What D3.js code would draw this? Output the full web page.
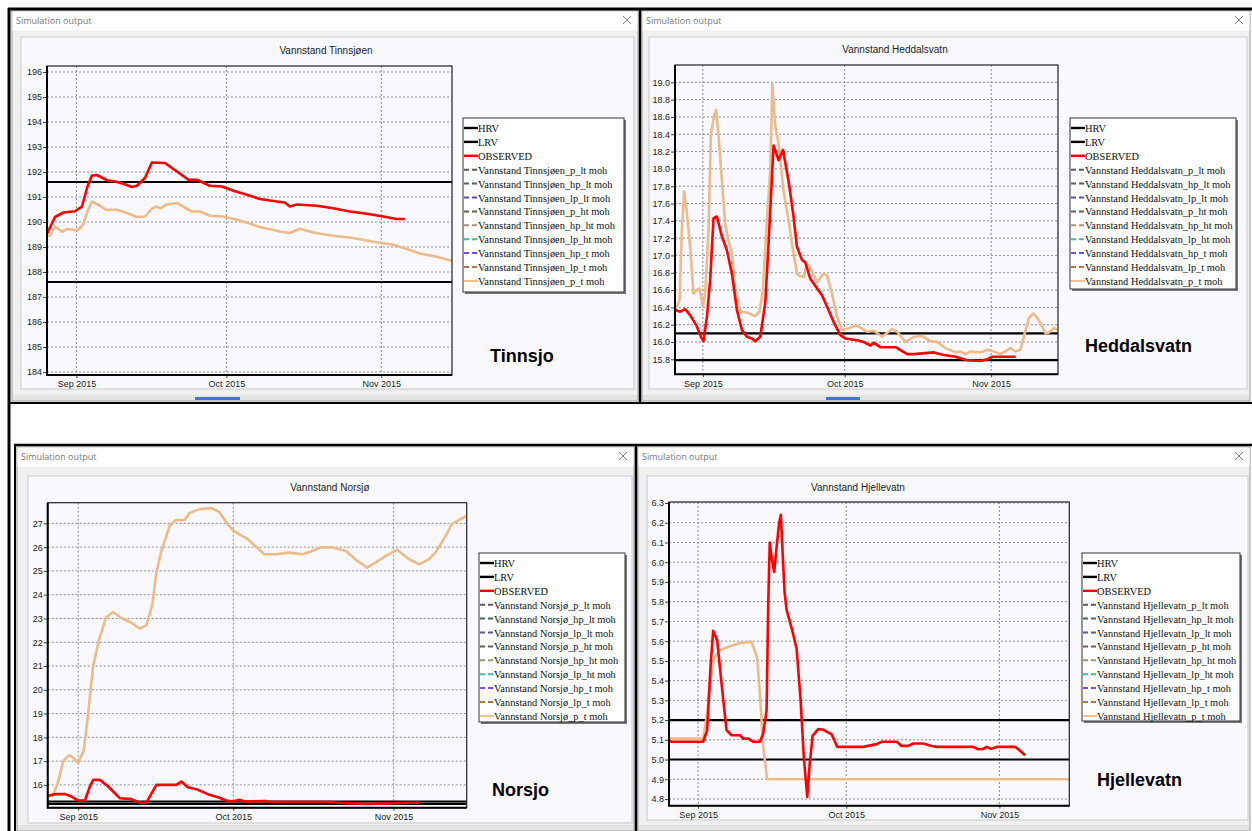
<!DOCTYPE html>
<html lang="en">
<head>
<meta charset="utf-8">
<title>Simulation output</title>
<script src="https://cdn.jsdelivr.net/npm/d3@7"></script>
<style>
  body { margin: 0; background: #fff; }
  svg { display: block; }
</style>
</head>
<body>
<script>
// ---- shared axis data ----
const xTickDays = [0, 30, 61];                       // Sep 1, Oct 1, Nov 1 (days from 2015-09-01)
const xTickLabels = ["Sep 2015", "Oct 2015", "Nov 2015"];
const dayDomain = [-5.9, 75.15];

const legendSuffixes = ["_p_lt moh", "_hp_lt moh", "_lp_lt moh", "_p_ht moh", "_hp_ht moh",
                        "_lp_ht moh", "_hp_t moh", "_lp_t moh", "_p_t moh"];
const legendColors = ["#000", "#000", "#ff0000", "#5a5a5a", "#4f6660", "#5e5494", "#6e5d4c",
                      "#a8927a", "#3fbf94", "#7c4ddb", "#a87a4a", "#efbf8e"];
const legendDashed = [false, false, false, true, true, true, true, true, true, true, true, false];

// ---- Tinnsjøen ----
const tinnTicks = [184, 185, 186, 187, 188, 189, 190, 191, 192, 193, 194, 195, 196];
const tinnHRV = 191.6, tinnLRV = 187.6;
const tinnObserved = [[-5.9,189.53],[-4.3,190.2],[-2.6,190.38],[-0.3,190.43],[1.1,190.62],[2.2,191.42],[3.1,191.86],[4.1,191.88],[6.1,191.67],[7.7,191.62],[9.4,191.53],[11.1,191.40],[12.1,191.45],[13.7,191.76],[15.1,192.38],[17.7,192.36],[20.1,192.02],[22.4,191.69],[24.1,191.69],[26.7,191.45],[29.1,191.42],[31.4,191.25],[34.1,191.09],[36.7,190.92],[40.1,190.82],[41.7,190.78],[42.7,190.62],[44.1,190.70],[48.1,190.65],[51.4,190.55],[54.7,190.42],[58.1,190.33],[61.4,190.22],[64.1,190.12],[65.7,190.12]];
const tinnPt = [[-5.9,189.45],[-5.3,189.45],[-4.3,189.82],[-2.9,189.61],[-1.9,189.72],[-0.6,189.69],[0.2,189.66],[1.3,189.89],[2.2,190.42],[3.1,190.82],[4.7,190.65],[5.9,190.49],[8.1,190.49],[10.1,190.36],[12.1,190.2],[13.7,190.22],[15.1,190.54],[16.1,190.62],[16.7,190.54],[18.1,190.70],[20.1,190.76],[23.1,190.42],[24.7,190.42],[26.7,190.25],[29.4,190.22],[32.7,190.06],[36.7,189.8],[40.7,189.62],[42.7,189.56],[44.7,189.73],[47.4,189.58],[51.4,189.45],[55.4,189.36],[59.4,189.21],[63.4,189.09],[66.1,188.92],[68.7,188.74],[72.1,188.61],[75.15,188.45]];

// ---- Heddalsvatn ----
const heddTicks = [15.8, 16.0, 16.2, 16.4, 16.6, 16.8, 17.0, 17.2, 17.4, 17.6, 17.8, 18.0, 18.2, 18.4, 18.6, 18.8, 19.0];
const heddHRV = 16.1, heddLRV = 15.79;
const heddObserved = [[-5.87,16.37],[-4.8,16.35],[-3.75,16.38],[-2.7,16.31],[-1.27,16.18],[-0.42,16.06],[0.13,16.01],[0.85,16.29],[1.55,16.72],[2.25,17.43],[2.97,17.45],[4.03,17.22],[5.08,17.06],[6.14,16.79],[7.2,16.37],[8.26,16.14],[9.32,16.06],[10.38,16.04],[11.08,16.01],[12.14,16.06],[13.2,16.45],[13.9,17.14],[14.96,18.27],[16.02,18.10],[16.95,18.22],[18.13,17.86],[19.19,17.45],[19.9,17.10],[20.97,16.95],[21.67,16.92],[22.73,16.73],[24.15,16.62],[25.21,16.54],[26.27,16.41],[27.68,16.23],[29.1,16.08],[30.15,16.04],[32.63,16.02],[34.04,16.0],[35.45,15.96],[36.16,15.99],[37.58,15.94],[40.76,15.94],[43.23,15.86],[44.64,15.86],[48.88,15.88],[51.0,15.85],[53.47,15.83],[55.95,15.79],[58.77,15.78],[60.18,15.80],[61.24,15.83],[66.17,15.83]];
const heddPt = [[-5.87,16.37],[-4.95,16.48],[-4.45,17.29],[-3.96,17.74],[-3.39,17.49],[-2.69,17.10],[-1.99,16.56],[-1.27,16.60],[-0.72,16.62],[0,16.41],[0.49,16.56],[1.19,17.29],[1.69,18.4],[2.4,18.62],[2.8,18.68],[3.3,18.4],[4.03,17.86],[4.72,17.36],[5.43,17.17],[6.14,17.04],[6.84,16.6],[7.9,16.35],[9.32,16.34],[11.08,16.30],[11.99,16.35],[12.71,16.6],[13.41,17.29],[14.25,17.98],[14.7,18.99],[15.3,18.5],[16.0,18.3],[17.08,17.74],[18.13,17.41],[18.84,17.14],[19.9,16.79],[20.6,16.76],[21.3,16.75],[22.0,16.9],[22.73,16.86],[24.15,16.69],[25.55,16.79],[26.27,16.77],[27.3,16.56],[28.4,16.29],[29.46,16.14],[30.86,16.16],[32.6,16.19],[34.75,16.12],[36.16,16.13],[37.93,16.06],[40.05,16.15],[41.1,16.12],[42.86,16.0],[44.64,16.06],[46.4,16.07],[48.17,16.01],[49.58,16.0],[51.34,15.93],[53.47,15.88],[54.5,15.89],[55.6,15.86],[56.6,15.89],[58.77,15.88],[60.2,15.91],[61.6,15.89],[63.0,15.86],[65.1,15.93],[66.17,15.89],[67.2,15.91],[68.3,16.14],[69.0,16.28],[70.0,16.33],[71.1,16.25],[72.5,16.10],[73.2,16.11],[74.3,16.16],[75.15,16.14]];

// ---- Norsjø ----
const norsTicks = [16, 17, 18, 19, 20, 21, 22, 23, 24, 25, 26, 27];
const norsHRV = 15.3, norsLRV = 15.2;
const norsObserved = [[-5.9,15.54],[-4.49,15.61],[-2.56,15.61],[-1.28,15.51],[0,15.34],[1.29,15.34],[2.26,15.93],[2.89,16.21],[4.19,16.21],[5.79,15.93],[8.04,15.44],[10.3,15.40],[11.9,15.25],[13.19,15.25],[15.12,16.0],[18.98,16.0],[19.94,16.14],[21.21,15.90],[22.83,15.82],[25.4,15.58],[27.33,15.46],[28.62,15.34],[29.9,15.30],[31.2,15.37],[32.15,15.30],[36.3,15.32],[37.6,15.28],[48.5,15.28],[50.4,15.25],[55.6,15.2],[60.75,15.22],[63.3,15.25],[66.0,15.25]];
const norsPt = [[-5.9,15.51],[-4.94,15.54],[-4.05,16.0],[-2.89,17.01],[-1.73,17.25],[-0.96,17.15],[0,16.92],[1.1,17.48],[1.93,19.02],[2.89,21.0],[4.05,22.12],[5.34,23.03],[6.75,23.27],[8.04,23.06],[10.3,22.82],[11.9,22.57],[13.19,22.71],[14.35,23.59],[15.12,24.93],[16.08,25.84],[17.7,26.9],[18.9,27.14],[20.6,27.14],[21.5,27.43],[23.5,27.6],[25.8,27.64],[27.3,27.47],[28.9,26.97],[30.0,26.69],[32.8,26.34],[36.0,25.70],[38.3,25.70],[40.8,25.77],[43.4,25.70],[45.3,25.84],[46.9,25.99],[49.2,25.99],[51.8,25.84],[54.0,25.42],[55.9,25.14],[57.5,25.35],[59.5,25.63],[61.7,25.89],[64.0,25.49],[66.0,25.28],[67.8,25.49],[69.1,25.77],[71.1,26.48],[72.3,26.98],[75.0,27.3]];

// ---- Hjellevatn ----
const hjelTicks = [4.8, 4.9, 5.0, 5.1, 5.2, 5.3, 5.4, 5.5, 5.6, 5.7, 5.8, 5.9, 6.0, 6.1, 6.2, 6.3];
const hjelHRV = 5.2, hjelLRV = 5.0;
const hjelObserved = [[-5.94,5.095],[-5.4,5.09],[1.01,5.09],[1.82,5.148],[2.51,5.47],[3.04,5.652],[3.85,5.605],[4.74,5.385],[5.75,5.149],[6.77,5.123],[8.45,5.123],[9.12,5.106],[10.13,5.106],[11.14,5.09],[12.5,5.09],[13.17,5.13],[13.86,5.25],[14.2,5.8],[14.5,6.1],[14.9,6.02],[15.4,5.95],[15.9,6.08],[16.4,6.2],[16.75,6.24],[17.1,6.05],[17.5,5.85],[17.9,5.76],[19.0,5.66],[19.94,5.56],[20.75,5.30],[21.4,5.01],[22.1,4.81],[22.6,4.98],[23.18,5.12],[24.3,5.154],[25.3,5.152],[27.03,5.128],[28.17,5.064],[33.4,5.064],[36.15,5.078],[37.2,5.09],[40.2,5.09],[41.2,5.069],[42.55,5.069],[43.57,5.081],[45.6,5.081],[47.3,5.069],[48.3,5.064],[55.7,5.064],[56.7,5.052],[57.75,5.054],[58.4,5.064],[59.25,5.054],[60.47,5.064],[64.2,5.064],[65.2,5.044],[66.2,5.022]];
const hjelPt = [[-5.94,5.106],[1.01,5.106],[1.82,5.233],[2.37,5.385],[3.18,5.512],[4.4,5.554],[6.42,5.574],[8.45,5.591],[10.8,5.596],[11.3,5.563],[11.96,5.512],[12.64,5.284],[13.17,5.064],[13.98,4.9],[75.2,4.9]];

// ---- layout of the four windows ----
const panels = [
  { lake: "Tinnsjøen", tag: "Tinnsjo", win: [12, 11, 638, 401], chart: [21, 37, 634, 389],
    plot: [47, 66, 452, 375], yDomain: [183.88, 196.24], ticks: tinnTicks, fmt: d3.format("d"),
    hrv: tinnHRV, lrv: tinnLRV, obs: tinnObserved, pt: tinnPt, titleX: 326, titleY: 54,
    legend: [463, 118, 161, 174], tagPos: [490, 362], strip: [195, 240] },
  { lake: "Heddalsvatn", tag: "Heddalsvatn", win: [642, 11, 1250, 401], chart: [649, 37, 1247, 389],
    plot: [675, 65, 1058, 374.3], yDomain: [15.627, 19.2], ticks: heddTicks, fmt: d3.format(".1f"),
    hrv: heddHRV, lrv: heddLRV, obs: heddObserved, pt: heddPt, titleX: 895, titleY: 53,
    legend: [1070, 118, 166, 171], tagPos: [1085, 352], strip: [826, 860] },
  { lake: "Norsjø", tag: "Norsjo", win: [17, 447, 634, 831], chart: [28, 476, 632, 823],
    plot: [47.7, 502.7, 466.7, 807.7], yDomain: [15.04, 27.87], ticks: norsTicks, fmt: d3.format("d"),
    hrv: norsHRV, lrv: norsLRV, obs: norsObserved, pt: norsPt, titleX: 330, titleY: 491,
    legend: [479, 553, 146, 169], tagPos: [492, 796], strip: null },
  { lake: "Hjellevatn", tag: "Hjellevatn", win: [638, 447, 1250, 831], chart: [647, 476, 1248, 820],
    plot: [669, 502, 1069.3, 805.7], yDomain: [4.766, 6.305], ticks: hjelTicks, fmt: d3.format(".1f"),
    hrv: hjelHRV, lrv: hjelLRV, obs: hjelObserved, pt: hjelPt, titleX: 858, titleY: 491,
    legend: [1082, 553, 158, 168], tagPos: [1097, 786], strip: null }
];

const W = 1252, H = 831;
const svg = d3.select("body").append("svg").attr("width", W).attr("height", H);
svg.append("rect").attr("width", W).attr("height", H).attr("fill", "#fff");

const toDate = d => new Date(Date.UTC(2015, 8, 1) + d * 864e5);

panels.forEach((p, idx) => {
  const g = svg.append("g");
  const [wx0, wy0, wx1, wy1] = p.win;

  // window chrome
  g.append("rect").attr("x", wx0).attr("y", wy0).attr("width", wx1 - wx0).attr("height", wy1 - wy0)
    .attr("fill", "#f0f0f0").attr("stroke", "#9a9a9a");
  g.append("rect").attr("x", wx0 + 0.5).attr("y", wy0 + 0.5).attr("width", wx1 - wx0 - 1).attr("height", 19)
    .attr("fill", "#fff");
  g.append("text").attr("x", wx0 + 4).attr("y", wy0 + 13).text("Simulation output")
    .style("font", "9px 'Open Sans', sans-serif").attr("fill", "#7a7a7a");
  const cx = wx1 - 11, cy = wy0 + 9;
  g.append("path").attr("d", `M${cx - 4},${cy - 4}L${cx + 4},${cy + 4}M${cx + 4},${cy - 4}L${cx - 4},${cy + 4}`)
    .attr("stroke", "#888").attr("stroke-width", 1);

  const [cx0, cy0, cx1, cy1] = p.chart;
  g.append("rect").attr("x", cx0).attr("y", cy0).attr("width", cx1 - cx0).attr("height", cy1 - cy0)
    .attr("fill", "#f9f9fd").attr("stroke", "#c8c8c8");

  // toolbar strip at the bottom of the window
  g.append("rect").attr("x", wx0 + 1).attr("y", wy1 - 6).attr("width", wx1 - wx0 - 2).attr("height", 5)
    .attr("fill", "#e4e4e4");
  if (p.strip) {
    g.append("rect").attr("x", p.strip[0]).attr("y", wy1 - 4).attr("width", p.strip[1] - p.strip[0]).attr("height", 3)
      .attr("fill", "#3c78c8");
  }

  g.append("text").attr("x", p.titleX).attr("y", p.titleY).attr("text-anchor", "middle")
    .text("Vannstand " + p.lake)
    .style("font", "10px 'Liberation Sans', Arial, sans-serif").attr("fill", "#222");

  // scales
  const [px0, py0, px1, py1] = p.plot;
  const x = d3.scaleUtc().domain(dayDomain.map(toDate)).range([px0, px1]);
  const y = d3.scaleLinear().domain(p.yDomain).range([py1, py0]);

  g.append("rect").attr("x", px0).attr("y", py0).attr("width", px1 - px0).attr("height", py1 - py0)
    .attr("fill", "#f8f8fe");

  // grid
  g.append("g").selectAll("line").data(p.ticks).join("line")
    .attr("x1", px0).attr("x2", px1).attr("y1", d => y(d)).attr("y2", d => y(d))
    .attr("stroke", "#8c8c8c").attr("stroke-dasharray", "2,2").attr("stroke-width", 1);
  g.append("g").selectAll("line").data(xTickDays).join("line")
    .attr("x1", d => x(toDate(d))).attr("x2", d => x(toDate(d))).attr("y1", py0).attr("y2", py1)
    .attr("stroke", "#8c8c8c").attr("stroke-dasharray", "2,2").attr("stroke-width", 1);

  // axes
  const yAxis = g.append("g").attr("transform", `translate(${px0},0)`)
    .call(d3.axisLeft(y).tickValues(p.ticks).tickFormat(p.fmt).tickSize(4).tickPadding(1));
  const xAxis = g.append("g").attr("transform", `translate(0,${py1})`)
    .call(d3.axisBottom(x).tickValues(xTickDays.map(toDate)).tickFormat((d, i) => xTickLabels[i]).tickSize(3).tickPadding(3));
  [yAxis, xAxis].forEach(a => {
    a.select(".domain").remove();
    a.selectAll("text").style("font", "9px 'Liberation Sans', Arial, sans-serif").attr("fill", "#1a1a1a");
    a.selectAll("line").attr("stroke", "#444");
  });

  // clip
  const clipId = "clip" + idx;
  svg.append("clipPath").attr("id", clipId).append("rect")
    .attr("x", px0).attr("y", py0).attr("width", px1 - px0).attr("height", py1 - py0);
  const plotG = g.append("g").attr("clip-path", `url(#${clipId})`);

  // HRV / LRV
  [p.hrv, p.lrv].forEach(v => {
    plotG.append("line").attr("x1", px0).attr("x2", px1).attr("y1", y(v)).attr("y2", y(v))
      .attr("stroke", "#000").attr("stroke-width", 2.2);
  });

  const line = d3.line().x(d => x(toDate(d[0]))).y(d => y(d[1])).curve(d3.curveLinear);
  plotG.append("path").datum(p.pt).attr("d", line).attr("fill", "none")
    .attr("stroke", "#ecbb8a").attr("stroke-width", 2.6).attr("stroke-linejoin", "round");
  plotG.append("path").datum(p.obs).attr("d", line).attr("fill", "none")
    .attr("stroke", "#ff0000").attr("stroke-width", 2.6).attr("stroke-linejoin", "round");

  // frame
  g.append("rect").attr("x", px0).attr("y", py0).attr("width", px1 - px0).attr("height", py1 - py0)
    .attr("fill", "none").attr("stroke", "#222").attr("stroke-width", 1.2);
  g.append("path").attr("d", `M${px0},${py0}V${py1}H${px1}`).attr("fill", "none")
    .attr("stroke", "#000").attr("stroke-width", 2);

  // legend
  const [lx, ly, lw, lh] = p.legend;
  g.append("rect").attr("x", lx + 2).attr("y", ly + 2).attr("width", lw).attr("height", lh).attr("fill", "#7a7a7a");
  g.append("rect").attr("x", lx).attr("y", ly).attr("width", lw).attr("height", lh)
    .attr("fill", "#fff").attr("stroke", "#333").attr("stroke-width", 1);
  const names = ["HRV", "LRV", "OBSERVED"].concat(legendSuffixes.map(s => "Vannstand " + p.lake + s));
  const rows = g.append("g").selectAll("g").data(names).join("g")
    .attr("transform", (d, i) => `translate(${lx},${ly + 10 + i * 13.9})`);
  rows.append("line").attr("x1", 1).attr("x2", 15).attr("y1", 0).attr("y2", 0)
    .attr("stroke", (d, i) => legendColors[i])
    .attr("stroke-width", (d, i) => i < 3 ? 2.4 : 2)
    .attr("stroke-dasharray", (d, i) => legendDashed[i] ? "5,3" : null);
  rows.append("text").attr("x", 15).attr("y", 4).text(d => d)
    .style("font", "10.4px 'Liberation Serif', 'Times New Roman', serif").attr("fill", "#111");

  // overlay lake tag
  svg.append("text").attr("x", p.tagPos[0]).attr("y", p.tagPos[1]).text(p.tag)
    .style("font", "bold 18px 'Liberation Sans', Arial, sans-serif").attr("fill", "#000");
});

// black separators of the screenshot collage
const sep = svg.append("g").attr("stroke", "#000");
sep.append("line").attr("x1", 8).attr("x2", 1252).attr("y1", 9).attr("y2", 9).attr("stroke-width", 3);
sep.append("line").attr("x1", 9).attr("x2", 9).attr("y1", 8).attr("y2", 831).attr("stroke-width", 3);
sep.append("line").attr("x1", 640).attr("x2", 640).attr("y1", 8).attr("y2", 403).attr("stroke-width", 2.5);
sep.append("line").attr("x1", 8).attr("x2", 1252).attr("y1", 403).attr("y2", 403).attr("stroke-width", 2);
sep.append("line").attr("x1", 14).attr("x2", 1252).attr("y1", 445).attr("y2", 445).attr("stroke-width", 2.5);
sep.append("line").attr("x1", 15).attr("x2", 15).attr("y1", 445).attr("y2", 831).attr("stroke-width", 2);
sep.append("line").attr("x1", 636).attr("x2", 636).attr("y1", 445).attr("y2", 831).attr("stroke-width", 2.5);
</script>
</body>
</html>
